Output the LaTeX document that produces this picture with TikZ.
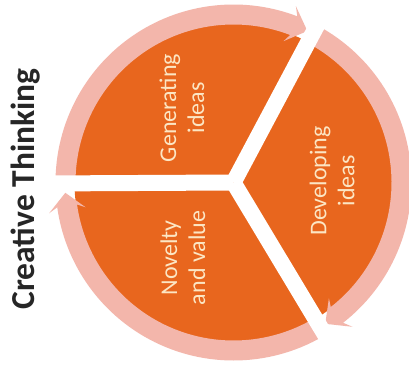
\documentclass[tikz,border=0pt]{standalone}
\usepackage{fontspec}
\setmainfont{Carlito}
\definecolor{orangec}{HTML}{E8661E}
\definecolor{ringc}{HTML}{F3B6AB}
\definecolor{creamc}{HTML}{FCE6C4}
\tikzset{
  sectortext/.style={text=creamc, align=center, rotate=90, font=\fontsize{24}{28}\selectfont, inner sep=0pt},
  spoke/.style={draw=white, line width=16pt},
  ringarrow/.style={fill=ringc, draw=none}
}
\begin{document}
\begin{tikzpicture}[x=1pt,y=1pt]
\useasboundingbox (0,0) rectangle (409,370);
\fill[white] (0,0) rectangle (409,370);
\coordinate (C) at (233.5,187.5);
% orange disk
\fill[orangec] (C) circle[radius=159];
% ring arrow 1 (top): from 180 clockwise to tip at 64
\fill[ringarrow] ([shift={(C)}]181:178) arc[start angle=181, end angle=69, radius=178]
  -- ([shift={(C)}]70.5:187) -- ([shift={(C)}]64:168.5) -- ([shift={(C)}]70.5:150)
  -- ([shift={(C)}]69:158) arc[start angle=69, end angle=181, radius=158] -- cycle;
% ring arrow 2 (right): from 62 clockwise to tip at -57
\fill[ringarrow] ([shift={(C)}]62:178) arc[start angle=62, end angle=-52, radius=178]
  -- ([shift={(C)}]-50.5:187) -- ([shift={(C)}]-57:168.5) -- ([shift={(C)}]-50.5:150)
  -- ([shift={(C)}]-52:158) arc[start angle=-52, end angle=62, radius=158] -- cycle;
% ring arrow 3 (bottom): from -60 clockwise to tip at 183.5
\fill[ringarrow] ([shift={(C)}]-60:178) arc[start angle=-60, end angle=-172, radius=178]
  -- ([shift={(C)}]-170.5:187) -- ([shift={(C)}]-176.5:168.5) -- ([shift={(C)}]-170.5:150)
  -- ([shift={(C)}]-172:158) arc[start angle=-172, end angle=-60, radius=158] -- cycle;
% spokes
\coordinate (s1) at ([shift={(C)}]180.3:200);
\coordinate (s2) at ([shift={(C)}]62:200);
\coordinate (s3) at ([shift={(C)}]-59:200);
\draw[spoke] (C) -- (s1);
\draw[spoke] (C) -- (s2);
\draw[spoke] (C) -- (s3);
% texts
\node[sectortext] (gen) at (182,262) {Generating\\ideas};
\node[sectortext] (dev) at (332,189) {Developing\\ideas};
\node[sectortext] (nov) at (183,112) {Novelty\\and value};
\node[rotate=90, font=\fontsize{33.5}{38}\selectfont\bfseries, text=black!85, inner sep=0pt] (title) at (26,181) {Creative Thinking};
\end{tikzpicture}
\end{document}
